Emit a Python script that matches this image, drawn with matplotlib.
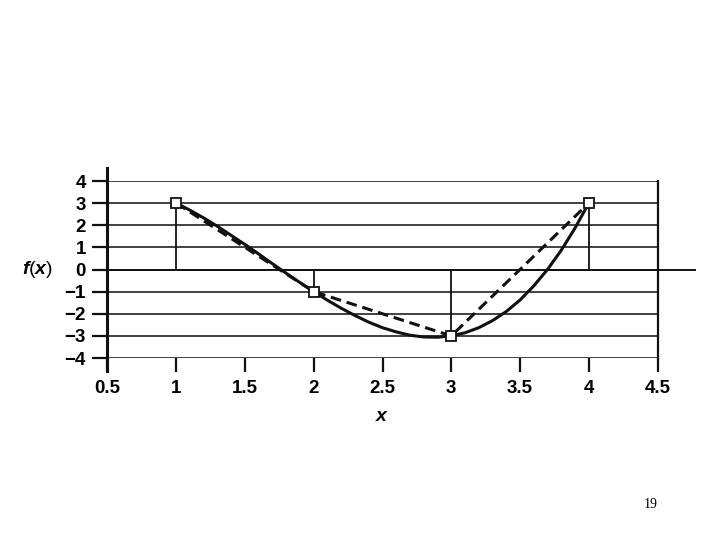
import matplotlib
matplotlib.use('Agg')
import matplotlib.pyplot as plt

# data points (squares) and the smooth curve
px = [1, 2, 3, 4]
py = [3, -1, -3, 3]

curve_x = [1.0, 1.1, 1.2, 1.3, 1.4, 1.5, 1.6, 1.7, 1.8, 1.9, 2.0,
           2.1, 2.2, 2.3, 2.4, 2.5, 2.6, 2.7, 2.8, 2.9, 3.0,
           3.1, 3.2, 3.3, 3.4, 3.5, 3.6, 3.7, 3.8, 3.9, 4.0]
curve_y = [3.0, 2.68, 2.33, 1.95, 1.54, 1.13, 0.70, 0.26, -0.17, -0.59, -1.0,
           -1.39, -1.75, -2.08, -2.38, -2.63, -2.82, -2.97, -3.05, -3.06, -3.0,
           -2.86, -2.63, -2.31, -1.90, -1.38, -0.74, 0.0, 0.87, 1.87, 3.0]

xticks = [0.5, 1, 1.5, 2, 2.5, 3, 3.5, 4, 4.5]
xticklabels = ['0.5', '1', '1.5', '2', '2.5', '3', '3.5', '4', '4.5']
yticks = [-4, -3, -2, -1, 0, 1, 2, 3, 4]
yticklabels = ['\u22124', '\u22123', '\u22122', '\u22121', '0', '1', '2', '3', '4']

plt.rcParams['font.family'] = ['Liberation Sans', 'DejaVu Sans']
plt.rcParams['mathtext.fontset'] = 'custom'
plt.rcParams['mathtext.it'] = 'Liberation Sans:italic:bold'
plt.rcParams['mathtext.rm'] = 'Liberation Sans:bold'

fig = plt.figure(figsize=(7.2, 5.4), dpi=100)
ax = fig.add_axes([0.1493, 0.337, 0.7639, 0.3278])
ax.set_xlim(0.5, 4.5)
ax.set_ylim(-4, 4)

ink = '#111111'

# horizontal grid lines
for yv in yticks:
    ax.axhline(yv, color='#333333', lw=1.3, zorder=1)

# zero line running past the right edge
ax.plot([0.5, 4.77], [0, 0], color=ink, lw=1.4, clip_on=False, zorder=2)
# left axis line sticking out above and below
ax.plot([0.5, 0.5], [-4.6, 4.6], color=ink, lw=2.2, clip_on=False, zorder=3)

# vertical stems
ax.vlines(px, 0, py, color=ink, lw=1.3, zorder=2)

# straight (dashed) segments
ax.plot(px, py, color=ink, lw=2.2, ls=(0, (3.5, 1.9)), zorder=3)
# smooth curve
ax.plot(curve_x, curve_y, color=ink, lw=2.2, zorder=4)
# squares
ax.plot(px, py, ls='none', marker='s', ms=7.5, mfc='white', mec=ink, mew=1.3, zorder=5)

for s in ['top', 'bottom', 'left']:
    ax.spines[s].set_visible(False)
ax.spines['right'].set_linewidth(1.6)
ax.spines['right'].set_color(ink)

ax.set_xticks(xticks)
ax.set_xticklabels(xticklabels)
ax.set_yticks(yticks)
ax.set_yticklabels(yticklabels)
ax.tick_params(axis='x', direction='out', length=10, width=1.6, color=ink, pad=6,
               labelsize=13.5)
ax.tick_params(axis='y', direction='out', length=10.5, width=1.6, color=ink, pad=5,
               labelsize=13.5)
for lab in ax.get_xticklabels() + ax.get_yticklabels():
    lab.set_fontweight('bold')

ax.set_xlabel('$x$', fontsize=14)
ax.xaxis.set_label_coords(0.499, -0.285)
ax.set_ylabel('$f$($x$)', fontsize=14, rotation=0, ha='right', va='center')
ax.yaxis.set_label_coords(-0.099, 0.5)

fig.text(651 / 720, 1 - 505 / 540, '19', family='Liberation Serif', fontsize=10,
         ha='center', va='center')

fig.savefig('out.png', dpi=100)
